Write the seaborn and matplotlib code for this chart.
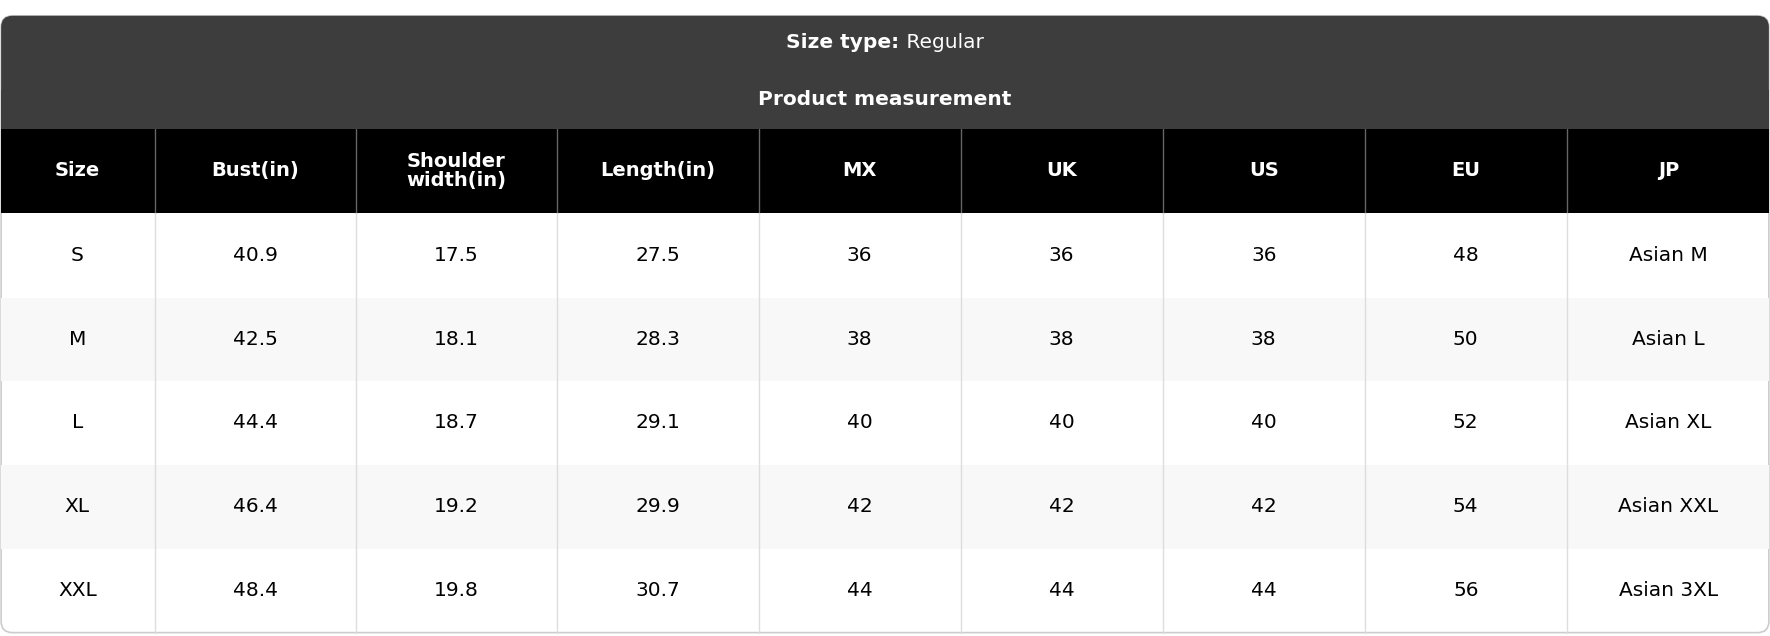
import matplotlib
matplotlib.use("Agg")
import matplotlib.pyplot as plt
from matplotlib.patches import Rectangle, FancyBboxPatch
import seaborn as sns

sns.set_theme(style="white")
plt.rcParams['font.family'] = ['DejaVu Sans']

size_type = "Regular"
subtitle = "Product measurement"
columns = ["Size", "Bust(in)", "Shoulder\nwidth(in)", "Length(in)", "MX", "UK", "US", "EU", "JP"]
sizes = ["S", "M", "L", "XL", "XXL"]
bust = ["40.9", "42.5", "44.4", "46.4", "48.4"]
shoulder = ["17.5", "18.1", "18.7", "19.2", "19.8"]
length = ["27.5", "28.3", "29.1", "29.9", "30.7"]
mx = ["36", "38", "40", "42", "44"]
uk = ["36", "38", "40", "42", "44"]
us = ["36", "38", "40", "42", "44"]
eu = ["48", "50", "52", "54", "56"]
jp = ["Asian M", "Asian L", "Asian XL", "Asian XXL", "Asian 3XL"]
table = [sizes, bust, shoulder, length, mx, uk, us, eu, jp]

W, H = 1568, 564
xs = [0, 137, 315, 493, 672, 851, 1030, 1209, 1388, 1568]
ys = [189, 264, 338, 412, 487, 561]

fig = plt.figure(figsize=(17.7, 6.36), dpi=100)
ax = fig.add_axes([0, 0, 1, 1])
ax.set_xlim(0, W)
ax.set_ylim(H, 0)
ax.axis("off")

# outer rounded box
ax.add_patch(FancyBboxPatch((1, 14), W - 2, 547, boxstyle="round,pad=0,rounding_size=10",
                            fc="white", ec="#cccccc", lw=1.2, zorder=0))
ax.add_patch(FancyBboxPatch((1, 14), W - 2, 100, boxstyle="round,pad=0,rounding_size=10",
                            fc="#3d3d3d", ec="none", zorder=1))
ax.add_patch(Rectangle((1, 80), W - 2, 34, fc="#3d3d3d", ec="none", zorder=1))
ax.text(W / 2, 38, "Size type: ", ha="right", va="center", fontsize=14.5, color="white",
        fontweight="bold", zorder=3, alpha=0)
t1 = ax.text(W / 2, 38, "Size type: $\\mathregular{}$", ha="center", va="center", alpha=0)
# bold label + regular value
lbl = ax.text(W / 2 - 0, 38, "Size type:", ha="right", va="center", fontsize=14.5,
              color="white", fontweight="bold", zorder=3)
fig.canvas.draw()
bb = lbl.get_window_extent()
val = ax.text(0, 38, " " + size_type, ha="left", va="center", fontsize=14.5, color="white", zorder=3)
vb = val.get_window_extent()
total = bb.width + vb.width
inv = ax.transData.inverted()
w_lbl = inv.transform((bb.width, 0))[0] - inv.transform((0, 0))[0]
w_tot = inv.transform((total, 0))[0] - inv.transform((0, 0))[0]
left = W / 2 - w_tot / 2
lbl.set_x(left + w_lbl)
val.set_x(left + w_lbl)
ax.text(W / 2, 88, subtitle, ha="center", va="center", fontsize=14.5, color="white",
        fontweight="bold", zorder=3)

# header row
ax.add_patch(Rectangle((1, 114), W - 2, 75, fc="black", ec="none", zorder=1))
for i, c in enumerate(columns):
    cx = (xs[i] + xs[i + 1]) / 2
    ax.text(cx, 151.5, c, ha="center", va="center", fontsize=14, color="white",
            fontweight="bold", linespacing=1.0, zorder=3)

# body rows
for r in range(len(sizes)):
    y0, y1 = ys[r], ys[r + 1]
    if r % 2 == 1:
        ax.add_patch(Rectangle((1, y0), W - 2, y1 - y0, fc="#f8f8f8", ec="none", zorder=1))
    for i in range(len(columns)):
        cx = (xs[i] + xs[i + 1]) / 2
        ax.text(cx, (y0 + y1) / 2, table[i][r], ha="center", va="center", fontsize=14.5,
                color="black", zorder=3)

# vertical separators
for x in xs[1:-1]:
    ax.plot([x, x], [114, 189], color="#666666", lw=1, zorder=2)
    ax.plot([x, x], [189, 561], color="#dddddd", lw=1, zorder=2)

fig.savefig("out.png", dpi=100)
